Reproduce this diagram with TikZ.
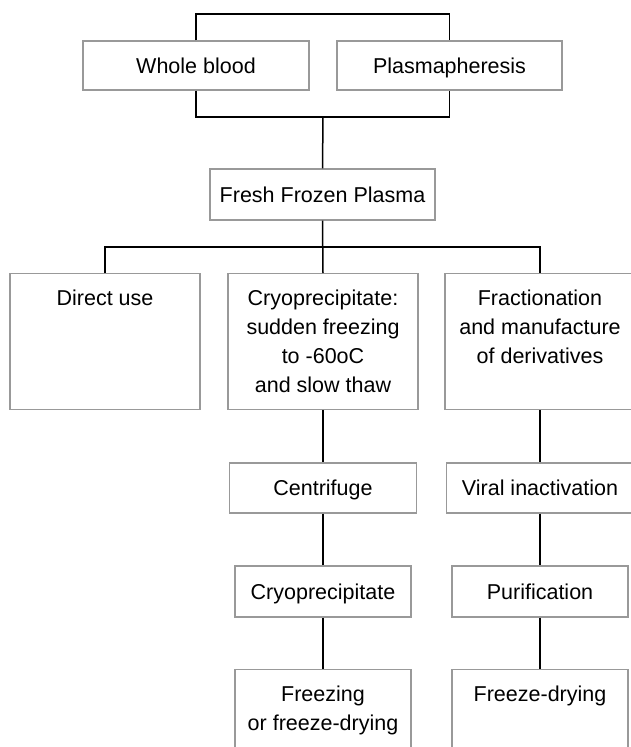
\documentclass[tikz,border=0pt]{standalone}
\usepackage{fontspec}
\setmainfont{Liberation Sans}
\definecolor{boxgray}{HTML}{999999}
\newcommand{\flowfont}{\fontsize{21.5}{29}\selectfont}
% text kept at the top of a tall box
\newcommand{\toptext}[3]{\parbox[c][#2][t]{#1}{\vspace*{12pt}\centering\strut #3}}

\begin{document}
\begin{tikzpicture}[x=1pt,y=-1pt,
    box/.style={draw=boxgray,line width=1.2pt,fill=white,align=center,inner sep=0pt,
        text height=15.5pt,text depth=0pt,font=\flowfont},
    tallbox/.style={draw=boxgray,line width=1.2pt,fill=white,inner sep=0pt,anchor=north,font=\flowfont},
    link/.style={draw=black,line width=1.5pt}]
    \useasboundingbox (0,0) rectangle (631,747);

    % sources
    \node[box,minimum width=226pt,minimum height=49pt] (whole)  at (196,65.5)   {Whole blood};
    \node[box,minimum width=225pt,minimum height=49pt] (plasma) at (449.5,65.5) {Plasmapheresis};
    \node[box,minimum width=225pt,minimum height=51pt] (ffp)    at (322.5,194.5) {Fresh Frozen Plasma};

    % three uses
    \node[tallbox] (direct) at (105,273) {\toptext{190pt}{136pt}{Direct use}};
    \node[tallbox] (cryo)   at (323,273) {\toptext{190pt}{136pt}{Cryoprecipitate:\\ sudden freezing\\ to -60oC\\ and slow thaw}};
    \node[tallbox] (frac)   at (540,273) {\toptext{190pt}{136pt}{Fractionation\\ and manufacture\\ of derivatives}};

    % steps
    \node[box,minimum width=187pt,minimum height=50pt] (centri) at (323,488) {Centrifuge};
    \node[box,minimum width=187pt,minimum height=50pt] (viral)  at (540,488) {Viral inactivation};
    \node[box,minimum width=176pt,minimum height=51pt] (cryop)  at (323,591.5) {Cryoprecipitate};
    \node[box,minimum width=176pt,minimum height=51pt] (purif)  at (540,591.5) {Purification};
    \node[tallbox] (freez) at (323,669) {\toptext{176pt}{110pt}{Freezing\\ or freeze-drying}};
    \node[tallbox] (fdry)  at (540,669) {\toptext{176pt}{110pt}{Freeze-drying}};

    \coordinate (top)   at (323,14);
    \coordinate (join)  at (323,117);
    \coordinate (split) at (323,247);

    \draw[link] (whole.north) |- (top) -| (plasma.north);
    \draw[link] (whole.south) |- (join) -| (plasma.south);
    \draw[link] (join) -- (ffp.north);
    \draw[link] (direct.north) |- (split) -| (frac.north);
    \draw[link] (ffp.south) -- (cryo.north);
    \draw[link] (cryo.south) -- (centri.north);
    \draw[link] (centri.south) -- (cryop.north);
    \draw[link] (cryop.south) -- (freez.north);
    \draw[link] (frac.south) -- (viral.north);
    \draw[link] (viral.south) -- (purif.north);
    \draw[link] (purif.south) -- (fdry.north);
\end{tikzpicture}
\end{document}
